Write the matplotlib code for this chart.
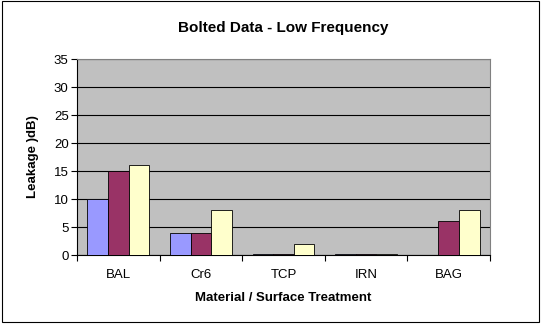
import matplotlib
matplotlib.use('Agg')
import matplotlib.pyplot as plt
import numpy as np
from matplotlib.patches import Rectangle

plt.rcParams['font.family'] = ['Liberation Sans', 'DejaVu Sans']

categories = ['BAL', 'Cr6', 'TCP', 'IRN', 'BAG']
series_1 = [10, 4, 0.1, 0.1, 0]
series_2 = [15, 4, 0.1, 0.1, 6]
series_3 = [16, 8, 2, 0.1, 8]

colors = ['#9999FF', '#993366', '#FFFFCC']

W, H = 541, 324
fig = plt.figure(figsize=(W / 100, H / 100), dpi=100)
# outer chart border
fig.patches.append(Rectangle((0.004, 0.006), 0.992, 0.99, transform=fig.transFigure,
                             fill=False, edgecolor='black', linewidth=0.8))

ax = fig.add_axes([77 / W, 1 - 255 / H, (490 - 77) / W, (255 - 59) / H])
ax.set_facecolor('#C0C0C0')

x = np.arange(len(categories))
w = 0.25
for i, vals in enumerate([series_1, series_2, series_3]):
    ax.bar(x + (i - 1) * w, vals, width=w, color=colors[i], edgecolor='black',
           linewidth=0.6, zorder=3)

ax.set_xlim(-0.5, len(categories) - 0.5)
ax.set_ylim(0, 35)
ax.set_yticks(range(0, 36, 5))
ax.yaxis.grid(True, color='black', linewidth=0.8, zorder=1)
ax.set_axisbelow(True)

ax.set_xticks(x)
ax.set_xticklabels(categories, fontsize=9.5)
ax.set_xticks(np.arange(-0.5, len(categories), 1), minor=True)
ax.tick_params(axis='x', which='major', length=0, pad=10)
ax.tick_params(axis='x', which='minor', length=4, width=0.8)
ax.tick_params(axis='y', labelsize=9.5, length=4, width=0.8, pad=2)

for s in ['top', 'right']:
    ax.spines[s].set_color('#808080')
    ax.spines[s].set_linewidth(0.8)
for s in ['left', 'bottom']:
    ax.spines[s].set_color('black')
    ax.spines[s].set_linewidth(0.8)

fig.text(283 / W, 1 - 28 / H, 'Bolted Data - Low Frequency', fontsize=11,
         fontweight='bold', ha='center', va='center')
fig.text(283 / W, 1 - 298 / H, 'Material / Surface Treatment', fontsize=9.5,
         fontweight='bold', ha='center', va='center')
fig.text(33 / W, 1 - 157 / H, 'Leakage )dB)', fontsize=9.5, fontweight='bold',
         ha='center', va='center', rotation=90)

fig.savefig('out.png', dpi=100)
